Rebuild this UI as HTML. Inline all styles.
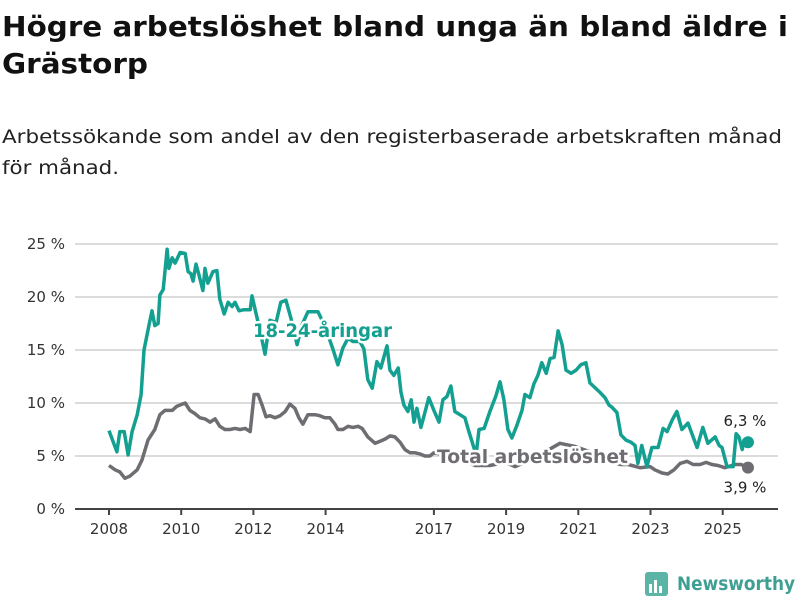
<!DOCTYPE html>
<html><head><meta charset="utf-8"><style>
html,body{margin:0;padding:0;background:#fff;}
svg{display:block;font-family:"DejaVu Sans","Liberation Sans",sans-serif;}
</style></head><body>
<svg id="chart" width="800" height="600" viewBox="0 0 800 600">
<text x="2" y="36" font-size="28" font-weight="bold" fill="#111" textLength="786" lengthAdjust="spacingAndGlyphs">Högre arbetslöshet bland unga än bland äldre i</text>
<text x="2" y="73" font-size="28" font-weight="bold" fill="#111" textLength="146" lengthAdjust="spacingAndGlyphs">Grästorp</text>
<text x="2" y="143" font-size="19" fill="#222" textLength="780" lengthAdjust="spacingAndGlyphs">Arbetssökande som andel av den registerbaserade arbetskraften månad</text>
<text x="2" y="174" font-size="19" fill="#222" textLength="117" lengthAdjust="spacingAndGlyphs">för månad.</text>
<g id="grid"></g>
<g id="yaxis"></g>
<g id="xaxis"></g>
<g id="series"></g>
<g>
<rect x="645" y="572" width="23" height="24" rx="3" fill="#5bb5a7"/>
<rect x="649" y="584" width="3" height="9" fill="#fff"/><rect x="654" y="580" width="3" height="13" fill="#fff"/><rect x="659" y="586" width="3" height="7" fill="#fff"/>
<text x="677" y="590" font-size="19" font-weight="bold" fill="#3f9f92" textLength="118" lengthAdjust="spacingAndGlyphs">Newsworthy</text>
</g>
</svg>
<script>
const yTicks=[0,5,10,15,20,25];
const yTickLabels=["0 %","5 %","10 %","15 %","20 %","25 %"];
const xTicks=[2008,2010,2012,2014,2017,2019,2021,2023,2025];
const youthT=[2008.00,2008.22,2008.30,2008.42,2008.53,2008.64,2008.78,2008.89,2008.97,2009.11,2009.19,2009.27,2009.36,2009.41,2009.50,2009.61,2009.66,2009.75,2009.83,2009.97,2010.11,2010.19,2010.27,2010.33,2010.41,2010.49,2010.60,2010.66,2010.74,2010.88,2010.99,2011.07,2011.19,2011.30,2011.41,2011.49,2011.60,2011.74,2011.91,2011.96,2012.07,2012.18,2012.32,2012.46,2012.63,2012.76,2012.90,2013.04,2013.21,2013.35,2013.51,2013.79,2013.93,2014.07,2014.21,2014.34,2014.48,2014.62,2014.76,2014.95,2015.06,2015.17,2015.29,2015.42,2015.53,2015.70,2015.78,2015.89,2016.01,2016.09,2016.17,2016.28,2016.37,2016.45,2016.53,2016.64,2016.75,2016.86,2017.00,2017.14,2017.25,2017.36,2017.47,2017.58,2017.72,2017.86,2017.97,2018.06,2018.17,2018.25,2018.39,2018.55,2018.72,2018.83,2018.94,2019.05,2019.16,2019.30,2019.44,2019.52,2019.66,2019.77,2019.88,2019.99,2020.11,2020.22,2020.33,2020.44,2020.55,2020.66,2020.80,2020.94,2021.07,2021.21,2021.32,2021.60,2021.74,2021.85,2021.93,2022.07,2022.18,2022.32,2022.46,2022.57,2022.65,2022.76,2022.90,2023.04,2023.21,2023.35,2023.46,2023.60,2023.73,2023.87,2024.04,2024.18,2024.29,2024.45,2024.59,2024.79,2024.90,2024.98,2025.12,2025.29,2025.37,2025.45,2025.54,2025.59,2025.70];
const youthV=[7.4,5.4,7.3,7.3,5.1,7.3,8.9,10.8,15.0,17.4,18.7,17.3,17.5,20.2,20.7,24.5,22.7,23.7,23.2,24.2,24.1,22.4,22.2,21.5,23.1,22.1,20.6,22.7,21.3,22.4,22.5,19.8,18.4,19.5,19.1,19.5,18.7,18.8,18.8,20.1,18.5,16.9,14.6,17.8,17.6,19.5,19.7,18.0,15.5,17.4,18.6,18.6,17.6,16.4,15.0,13.6,15.2,16.1,15.8,15.8,15.1,12.2,11.4,13.9,13.3,15.4,13.1,12.6,13.3,11.0,9.8,9.2,10.3,8.2,9.5,7.7,9.1,10.5,9.3,8.2,10.3,10.6,11.6,9.2,8.9,8.6,7.3,6.3,5.1,7.5,7.6,9.2,10.7,12.0,10.3,7.5,6.7,7.9,9.3,10.8,10.5,11.8,12.6,13.8,12.8,14.2,14.3,16.8,15.5,13.1,12.8,13.1,13.6,13.8,11.9,11.0,10.5,9.8,9.6,9.1,7.0,6.5,6.3,6.0,4.3,6.0,4.0,5.8,5.8,7.6,7.3,8.4,9.2,7.5,8.1,6.8,5.8,7.7,6.2,6.8,6.0,5.8,4.0,4.0,7.1,6.8,5.6,6.5,6.3];
const totalT=[2008.00,2008.17,2008.30,2008.44,2008.58,2008.78,2008.91,2009.08,2009.27,2009.41,2009.55,2009.75,2009.88,2010.11,2010.24,2010.38,2010.52,2010.66,2010.80,2010.94,2011.07,2011.21,2011.35,2011.49,2011.63,2011.77,2011.91,2012.02,2012.13,2012.24,2012.35,2012.46,2012.60,2012.74,2012.88,2013.01,2013.15,2013.26,2013.37,2013.51,2013.71,2013.84,2013.98,2014.12,2014.26,2014.34,2014.48,2014.62,2014.76,2014.90,2015.01,2015.17,2015.37,2015.51,2015.65,2015.78,2015.92,2016.06,2016.20,2016.34,2016.48,2016.61,2016.75,2016.89,2017.00,2017.31,2017.72,2018.14,2018.55,2018.97,2019.25,2019.66,2020.08,2020.49,2020.91,2021.32,2021.74,2022.16,2022.38,2022.71,2022.99,2023.12,2023.32,2023.48,2023.65,2023.82,2024.01,2024.18,2024.37,2024.54,2024.70,2024.87,2025.06,2025.34,2025.51,2025.70];
const totalV=[4.1,3.7,3.5,2.9,3.1,3.7,4.6,6.5,7.5,8.9,9.3,9.3,9.7,10.0,9.3,9.0,8.6,8.5,8.2,8.5,7.8,7.5,7.5,7.6,7.5,7.6,7.3,10.8,10.8,9.8,8.7,8.8,8.6,8.8,9.2,9.9,9.5,8.6,8.0,8.9,8.9,8.8,8.6,8.6,8.0,7.5,7.5,7.8,7.7,7.8,7.6,6.8,6.2,6.4,6.6,6.9,6.8,6.3,5.6,5.3,5.3,5.2,5.0,5.0,5.3,5.1,4.8,4.1,4.1,4.4,4.0,4.6,5.4,6.2,5.9,5.4,4.6,4.2,4.2,3.9,4.0,3.7,3.4,3.3,3.7,4.3,4.5,4.2,4.2,4.4,4.2,4.1,3.9,4.2,4.2,3.9];
const youthLast="6,3 %", totalLast="3,9 %";
const NS="http://www.w3.org/2000/svg";
const X=t=>109+(t-2008)*36.1;
const Y=v=>509-v*10.6;
function mk(tag,attrs,parent,txt){const e=document.createElementNS(NS,tag);for(const k in attrs)e.setAttribute(k,attrs[k]);if(txt!==undefined)e.textContent=txt;parent.appendChild(e);return e;}
const grid=document.getElementById('grid'),ya=document.getElementById('yaxis'),xa=document.getElementById('xaxis'),sg=document.getElementById('series');
yTicks.forEach((v,i)=>{
 if(v>0){const l=mk('line',{x1:75,x2:778,y1:Y(v),y2:Y(v),stroke:'#dcdcdc','stroke-width':2},grid);
 
 }
 const t=mk('text',{x:65,y:Y(v)+5,'text-anchor':'end','font-size':15,fill:'#333'},ya,yTickLabels[i]);
 
 
});
const ax=mk('line',{x1:75,x2:778,y1:509,y2:509,stroke:'#444','stroke-width':2},xa);


xTicks.forEach(yr=>{
 const tk=mk('line',{x1:X(yr),x2:X(yr),y1:509,y2:515,stroke:'#444','stroke-width':2},xa);
 
 
 const t=mk('text',{x:X(yr),y:534,'text-anchor':'middle','font-size':15,fill:'#333'},xa,String(yr));
 
 
});
function path(T,V){return T.map((t,i)=>(i?'L':'M')+X(t).toFixed(1)+','+Y(V[i]).toFixed(1)).join('');}
const pt=mk('path',{d:path(totalT,totalV),fill:'none',stroke:'#6f6d72','stroke-width':3.5,'stroke-linejoin':'round'},sg);


const py=mk('path',{d:path(youthT,youthV),fill:'none',stroke:'#14a091','stroke-width':3.5,'stroke-linejoin':'round'},sg);


const lt=totalT.length-1, ly=youthT.length-1;
const dt=mk('circle',{cx:X(totalT[lt]),cy:Y(totalV[lt]),r:6,fill:'#6f6d72'},sg);


const dy=mk('circle',{cx:X(youthT[ly]),cy:Y(youthV[ly]),r:6,fill:'#14a091'},sg);


const vy=mk('text',{x:745,y:Y(youthV[ly])-16,'text-anchor':'middle','font-size':15,fill:'#222'},sg,youthLast);


const vt=mk('text',{x:745,y:Y(totalV[lt])+25,'text-anchor':'middle','font-size':15,fill:'#222'},sg,totalLast);


const l1=mk('text',{x:253,y:337,'font-size':19,'font-weight':'bold',fill:'#14a091',stroke:'#fff','stroke-width':5,'paint-order':'stroke','stroke-linejoin':'round',textLength:139,lengthAdjust:'spacingAndGlyphs'},sg,'18-24-åringar');


const l2=mk('text',{x:437,y:463,'font-size':19,'font-weight':'bold',fill:'#6f6d72',stroke:'#fff','stroke-width':5,'paint-order':'stroke','stroke-linejoin':'round',textLength:191,lengthAdjust:'spacingAndGlyphs'},sg,'Total arbetslöshet');


</script>
</body></html>
